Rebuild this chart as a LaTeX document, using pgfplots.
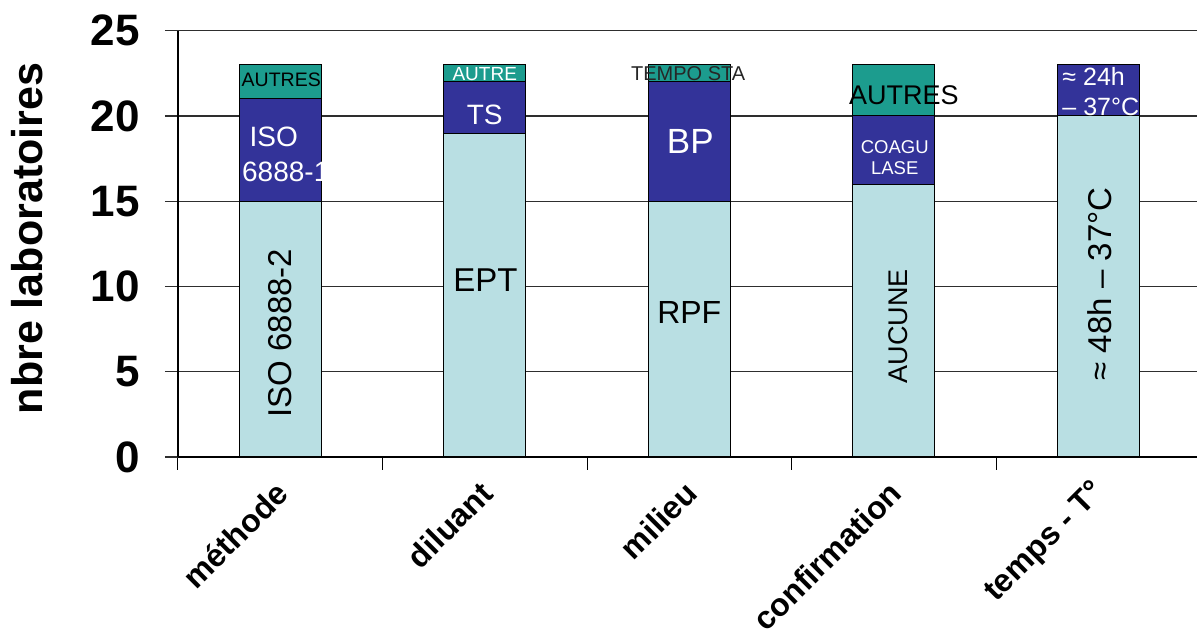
\documentclass[border=0pt]{standalone}
\usepackage{pgfplots}
\usepackage{pgfplotstable}
\pgfplotsset{compat=1.18}
\usepackage{fontspec}
\setmainfont{Liberation Sans}

\definecolor{barlight}{HTML}{B9DFE3}
\definecolor{barblue}{HTML}{333399}
\definecolor{barteal}{HTML}{1C9C8E}
\definecolor{gridgrey}{HTML}{2E2E2E}

% number of laboratories per answer, one row per question
\pgfplotstableread{
x base mid top
0 15 6 2
1 19 3 1
2 15 7 1
3 16 4 3
4 20 3 0
}\labdata

\newcommand{\fsize}[1]{\fontsize{#1}{#1}\selectfont}

% texts written inside the bars (drawn once the stacked bars are in place)
\newcommand{\barnotes}{%
  % méthode
  \node[inner sep=0pt, font=\fsize{19.5}, text=black] at (axis cs:0.005,22.1) {AUTRES};
  \node[inner sep=0pt, font=\fsize{28}, text=white] at (axis cs:-0.032,18.77) {ISO};
  \node[inner sep=0pt, font=\fsize{28}, text=white] at (axis cs:0.027,16.74) {6888-1};
  \node[inner sep=0pt, font=\fsize{33}, text=black, rotate=90] at (axis cs:0,7.27) {ISO 6888-2};
  % diluant
  \node[inner sep=0pt, font=\fsize{19}, text=white] at (axis cs:1,22.46) {AUTRE};
  \node[inner sep=0pt, font=\fsize{28}, text=white] at (axis cs:1,20.06) {TS};
  \node[inner sep=0pt, font=\fsize{33}, text=black] at (axis cs:1.003,10.38) {EPT};
  % milieu
  \node[inner sep=0pt, font=\fsize{20}, text=black!85] at (axis cs:1.995,22.49) {TEMPO STA};
  \node[inner sep=0pt, font=\fsize{35}, text=white] at (axis cs:2.005,18.53) {BP};
  \node[inner sep=0pt, font=\fsize{32}, text=black] at (axis cs:2,8.45) {RPF};
  % confirmation
  \node[inner sep=0pt, font=\fsize{27}, text=black] at (axis cs:3.049,21.23) {AUTRES};
  \node[inner sep=0pt, font=\fontsize{18.5}{21.5}\selectfont, text=white, align=center] at (axis cs:3.005,17.57) {COAGU\\LASE};
  \node[inner sep=0pt, font=\fsize{27}, text=black, rotate=90] at (axis cs:3.02,7.68) {AUCUNE};
  % temps - T°
  \node[inner sep=0pt, font=\fontsize{25}{30}\selectfont, text=white, align=left, anchor=west] at (axis cs:3.824,21.44) {≈ 24h\\– 37°C};
  \node[inner sep=0pt, font=\fsize{33}, text=black, rotate=90] at (axis cs:4.005,10.15) {≈ 48h – 37°C};
}

\begin{document}
\begin{tikzpicture}
\useasboundingbox (0pt,0pt) rectangle (1197pt,631pt);
\begin{axis}[
  at={(178pt,174pt)}, anchor=south west,
  scale only axis, width=1022.5pt, height=426.25pt,
  xmin=-0.5, xmax=4.5, ymin=0, ymax=25,
  ybar stacked, bar width=0.4,
  axis x line*=bottom, axis y line*=left,
  axis line style={black, line width=1.4pt},
  tick align=outside,
  major tick length=13pt,
  xtick={-0.5,0.5,1.5,2.5,3.5,4.5},
  x tick label as interval,
  xticklabels={méthode, diluant, milieu, confirmation, temps - T°},
  xtick style={draw=black, line width=1pt},
  ytick={0,5,10,15,20,25},
  ytick style={draw=gridgrey, line width=1.4pt},
  ymajorgrids,
  major grid style={draw=gridgrey, line width=1.4pt},
  /pgf/number format/assume math mode=true,
  yticklabel style={font=\fsize{44}\bfseries, anchor=east, inner sep=0pt, xshift=-25pt},
  xticklabel style={font=\fsize{32}\bfseries, rotate=45, anchor=east, inner sep=0pt, yshift=-14pt, xshift=-11pt},
  ylabel={nbre laboratoires},
  ylabel style={font=\fsize{43}\bfseries, at={(axis description cs:-0.1477,0.5126)}, anchor=center, inner sep=0pt},
  after end axis/.code={\barnotes},
]
\addplot[fill=barlight, draw=black, line width=1pt] table[x=x, y=base]{\labdata};
\addplot[fill=barblue, draw=black, line width=1pt] table[x=x, y=mid]{\labdata};
\addplot[fill=barteal, draw=black, line width=1pt] table[x=x, y=top]{\labdata};
\end{axis}
\end{tikzpicture}
\end{document}
